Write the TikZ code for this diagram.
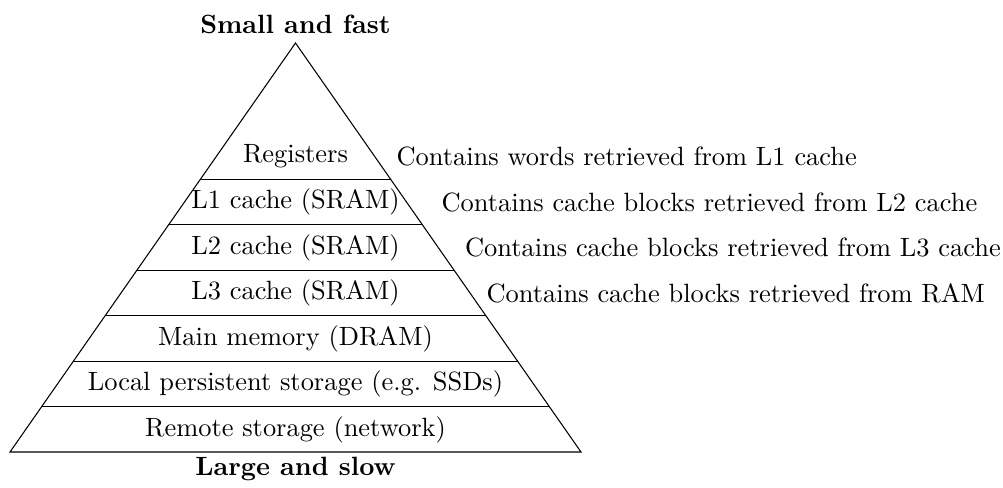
\documentclass[tikz,border=0pt]{standalone}
\usetikzlibrary{calc}
\begin{document}
\begin{tikzpicture}[x=0.3785pt,y=-0.3785pt,
  level/.style={inner sep=0pt},
  note/.style={anchor=west,inner sep=0pt},
  heading/.style={font=\bfseries,inner sep=0pt},
  rule/.style={line width=0.4pt}]
\useasboundingbox (0,0) rectangle (1003,487);
% pyramid outline
\coordinate (apex) at (295.5,43);
\coordinate (bl) at (10,452);
\coordinate (br) at (581,452);
\draw[rule] (apex) -- (bl) -- (br) -- cycle;
% level separators, evenly spaced down the pyramid
\foreach \k in {3,...,8}
  \draw[rule] ($(apex)!{\k/9}!(bl)$) -- ($(apex)!{\k/9}!(br)$);
% headings
\node[heading] (top) at (295.5,24.2) {Small and fast};
\node[heading] (bottom) at (295.5,468.5) {Large and slow};
% level names
\node[level] (reg)  at (295.5,156.6) {Registers};
\node[level] (l1)   at (295.5,202.1) {L1 cache (SRAM)};
\node[level] (l2)   at (295.5,247.5) {L2 cache (SRAM)};
\node[level] (l3)   at (295.5,293.0) {L3 cache (SRAM)};
\node[level] (dram) at (295.5,338.4) {Main memory (DRAM)};
\node[level] (ssd)  at (295.5,383.9) {Local persistent storage (e.g. SSDs)};
\node[level] (net)  at (295.5,429.4) {Remote storage (network)};
% descriptions
\node[note] (nreg) at (396,156.6) {Contains words retrieved from L1 cache};
\node[note] (nl1)  at (441,202.1) {Contains cache blocks retrieved from L2 cache};
\node[note] (nl2)  at (464.5,247.5) {Contains cache blocks retrieved from L3 cache};
\node[note] (nl3)  at (486,293.0) {Contains cache blocks retrieved from RAM};
\end{tikzpicture}
\end{document}
